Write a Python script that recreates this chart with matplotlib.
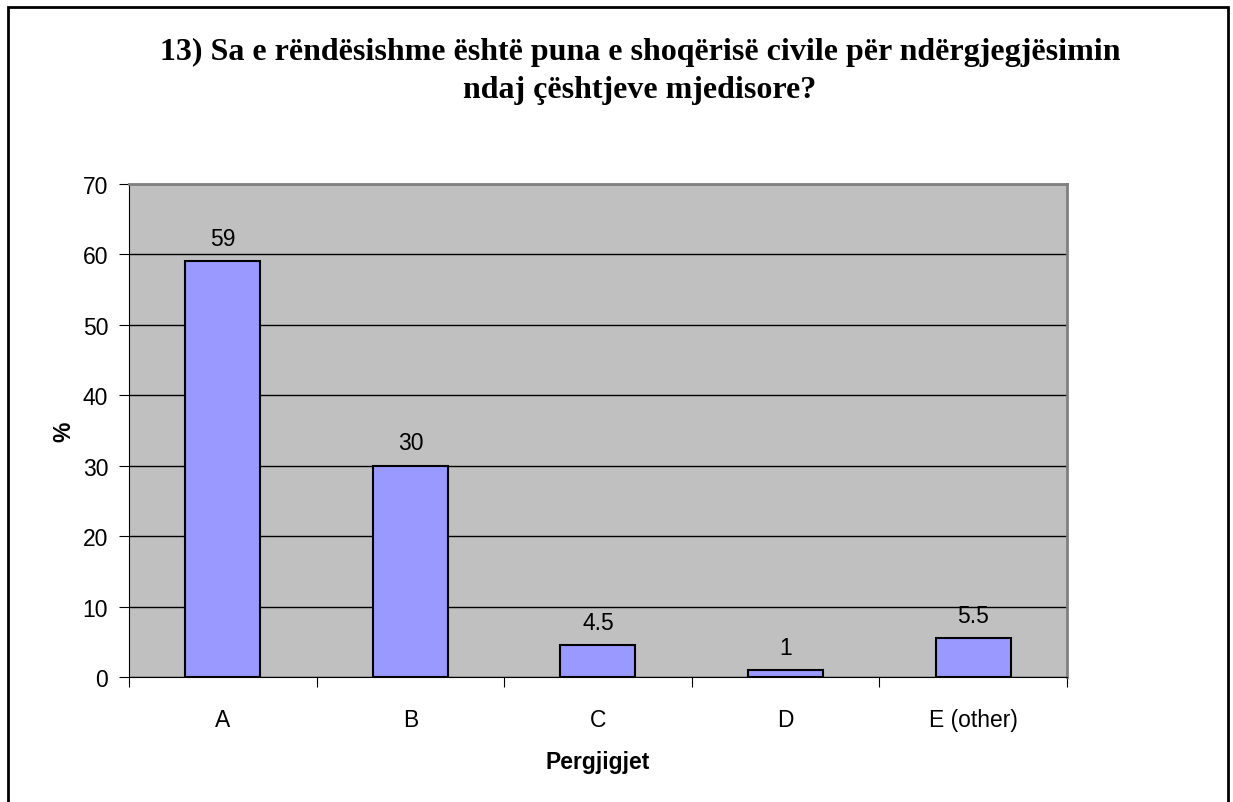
import matplotlib.pyplot as plt
from matplotlib.patches import Rectangle

categories = ["A", "B", "C", "D", "E (other)"]
values = [59, 30, 4.5, 1, 5.5]
value_labels = ["59", "30", "4.5", "1", "5.5"]
yticks = [0, 10, 20, 30, 40, 50, 60, 70]

fig = plt.figure(figsize=(12.33, 8.03), dpi=100)
# outer chart frame (bottom edge falls just off the image)
fig.patches.append(Rectangle((8 / 1233, -0.01), 1220 / 1233, 1.01 - 8 / 803,
                             transform=fig.transFigure, fill=False,
                             edgecolor="black", linewidth=2))

ax = fig.add_axes([0.1046, 0.1557, 0.7607, 0.6139])
ax.set_facecolor("#C0C0C0")
x = list(range(len(categories)))
ax.bar(x, values, width=0.4, color="#9999FF", edgecolor="black", linewidth=1.5, zorder=3)
for xi, v, lab in zip(x, values, value_labels):
    ax.text(xi, v + 1.6, lab, ha="center", va="bottom", fontsize=16.5,
            family="Liberation Sans")

ax.set_xlim(-0.5, 4.5)
ax.set_ylim(0, 70)
ax.set_yticks(yticks)
ax.set_yticklabels([str(t) for t in yticks], fontsize=16.5, family="Liberation Sans")
ax.yaxis.grid(True, color="black", linewidth=1, zorder=1)
ax.set_axisbelow(True)

ax.set_xticks([i - 0.5 for i in range(len(categories) + 1)])
ax.set_xticklabels([])
ax.set_xticks(x, minor=True)
ax.set_xticklabels(categories, minor=True, fontsize=16.5, family="Liberation Sans")
ax.tick_params(axis="x", which="minor", length=0, pad=22)
ax.tick_params(axis="x", which="major", length=7, direction="out")
ax.tick_params(axis="y", length=7, direction="out", pad=8)

for side in ["top", "right"]:
    ax.spines[side].set_color("#808080")
    ax.spines[side].set_linewidth(2)
for side in ["left", "bottom"]:
    ax.spines[side].set_color("black")

ax.set_xlabel("Pergjigjet", fontsize=16.5, fontweight="bold", family="Liberation Sans", labelpad=14)
ax.set_ylabel("%", fontsize=16.5, fontweight="bold", family="Liberation Sans", labelpad=5)

fig.text(0.519, 0.953, "13) Sa e rëndësishme është puna e shoqërisë civile për ndërgjegjësimin\nndaj çështjeve mjedisore?",
         ha="center", va="top", fontsize=23, fontweight="bold", family="Liberation Serif",
         linespacing=1.4)

fig.savefig("out.png", dpi=100)
